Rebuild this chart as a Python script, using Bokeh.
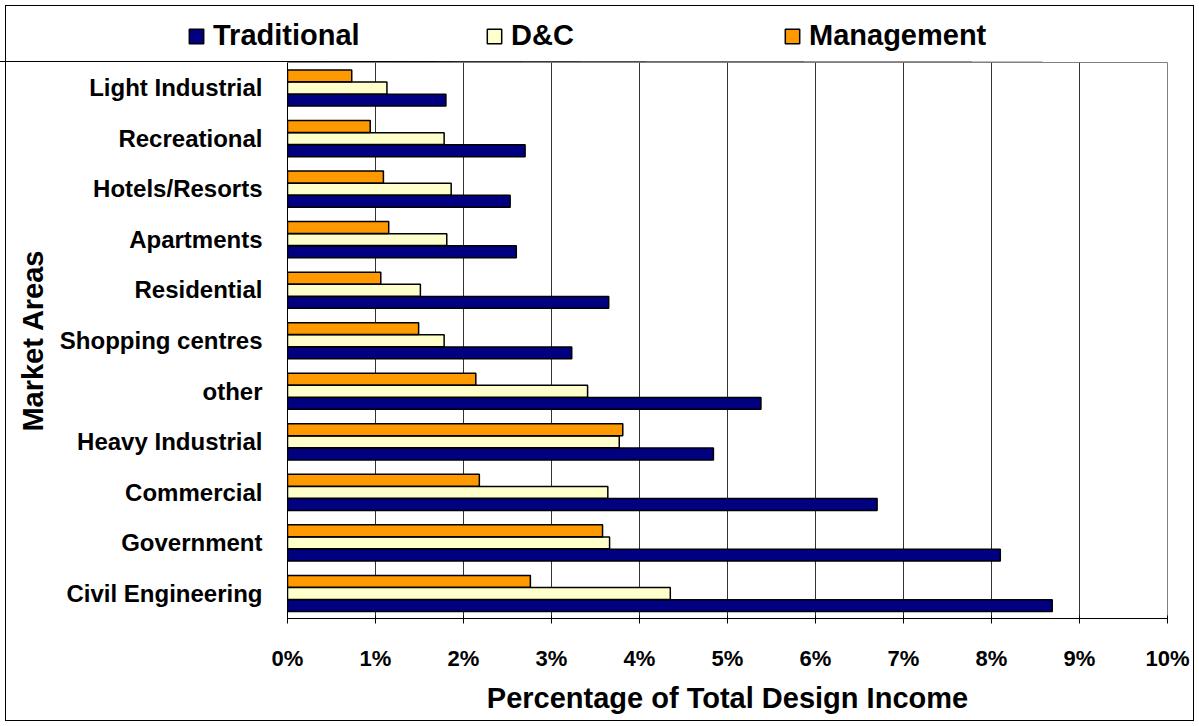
from bokeh.plotting import figure
from bokeh.layouts import column, row
from bokeh.models import ColumnDataSource, FactorRange, Range1d, FixedTicker, Legend, LegendItem
from bokeh.transform import dodge
from bokeh.embed import file_html
from bokeh.resources import INLINE

# ---- data (top to bottom as displayed) ----
categories = ["Light Industrial", "Recreational", "Hotels/Resorts", "Apartments",
              "Residential", "Shopping centres", "other", "Heavy Industrial",
              "Commercial", "Government", "Civil Engineering"]
traditional = [1.80, 2.70, 2.53, 2.60, 3.65, 3.23, 5.38, 4.84, 6.70, 8.10, 8.69]
dc = [1.13, 1.78, 1.86, 1.81, 1.51, 1.78, 3.41, 3.77, 3.64, 3.66, 4.35]
management = [0.73, 0.94, 1.09, 1.15, 1.06, 1.49, 2.14, 3.81, 2.18, 3.58, 2.76]
series_names = ["Traditional", "D&C", "Management"]
series_colors = ["#000080", "#FFFFCC", "#FF9900"]
series_keys = ["trad", "dc", "mgmt"]
x_ticks = list(range(0, 11))
x_tick_labels = [f"{t}%" for t in x_ticks]

FONT = "Liberation Sans"

src = ColumnDataSource(dict(cat=categories, trad=traditional, dc=dc, mgmt=management))

# ---------------- main chart ----------------
p = figure(width=1199, height=664,
           y_range=FactorRange(factors=categories[::-1]),
           x_range=Range1d(0, 10),
           output_backend="svg", toolbar_location=None,
           min_border_left=287, min_border_right=32,
           min_border_top=0, min_border_bottom=108)
p.border_fill_alpha = 0

bh = 0.235
offsets = [-0.245, -0.005, 0.235]
for key, col, off in zip(series_keys, series_colors, offsets):
    p.hbar(y=dodge("cat", off, range=p.y_range), left=0, right=key, height=bh,
           source=src, fill_color=col, line_color="black", line_width=1.5)

p.xgrid.ticker = FixedTicker(ticks=x_ticks)
p.xgrid.grid_line_color = "#333333"
p.xgrid.grid_line_width = 1
p.ygrid.grid_line_color = None
p.outline_line_color = "#808080"
p.background_fill_color = "white"

xa = p.xaxis[0]
xa.ticker = FixedTicker(ticks=x_ticks)
xa.major_label_overrides = {t: l for t, l in zip(x_ticks, x_tick_labels)}
xa.major_label_text_font = FONT
xa.major_label_text_font_style = "bold"
xa.major_label_text_font_size = "22px"
xa.major_label_text_color = "black"
xa.major_label_standoff = 22
xa.major_tick_out = 5
xa.major_tick_in = 3
xa.minor_tick_line_color = None
xa.axis_line_color = "black"
xa.major_tick_line_color = "black"
xa.axis_label = "Percentage of Total Design Income"
xa.axis_label_text_font = FONT
xa.axis_label_text_font_style = "bold"
xa.axis_label_text_font_size = "29px"
xa.axis_label_text_color = "black"
xa.axis_label_standoff = 8

ya = p.yaxis[0]
ya.major_label_text_font = FONT
ya.major_label_text_font_style = "bold"
ya.major_label_text_font_size = "24px"
ya.major_label_text_color = "black"
ya.major_tick_out = 0
ya.major_tick_in = 0
ya.major_label_standoff = 25
ya.axis_line_color = "black"
ya.axis_label = "Market Areas"
ya.axis_label_text_font = FONT
ya.axis_label_text_font_style = "bold"
ya.axis_label_text_font_size = "29px"
ya.axis_label_text_color = "black"
ya.axis_label_standoff = 8

# ---------------- legend strip above ----------------
top = figure(width=1199, height=62, x_range=Range1d(0, 10), y_range=Range1d(0, 1),
             x_axis_type=None, y_axis_type=None,
             output_backend="svg", toolbar_location=None,
             min_border=0)
top.outline_line_color = None
top.border_fill_alpha = 0
top.background_fill_alpha = 0
top.xgrid.grid_line_color = None
top.ygrid.grid_line_color = None
# legend swatches use the same series (drawn outside the strip's visible range)
swatches = [top.hbar(y=-5, left=0, right=key, height=0.1, source=src,
                     fill_color=col, line_color="black", line_width=1.5)
            for key, col in zip(series_keys, series_colors)]

lg = Legend(items=[LegendItem(label=n, renderers=[r]) for n, r in zip(series_names, swatches)],
            location=(187, 10), orientation="horizontal",
            padding=0, margin=0, spacing=110,
            border_line_color=None, background_fill_alpha=0,
            glyph_width=18, glyph_height=18, label_standoff=8,
            label_width=162,
            label_text_font=FONT, label_text_font_style="bold",
            label_text_font_size="29px", label_text_color="black")
top.add_layout(lg, "center")

page = column(row(top), p, spacing=0)
page.styles = {"outline": "1px solid black", "outline-offset": "-6px", "background": "white"}

open("out.html", "w").write(file_html(page, INLINE))
